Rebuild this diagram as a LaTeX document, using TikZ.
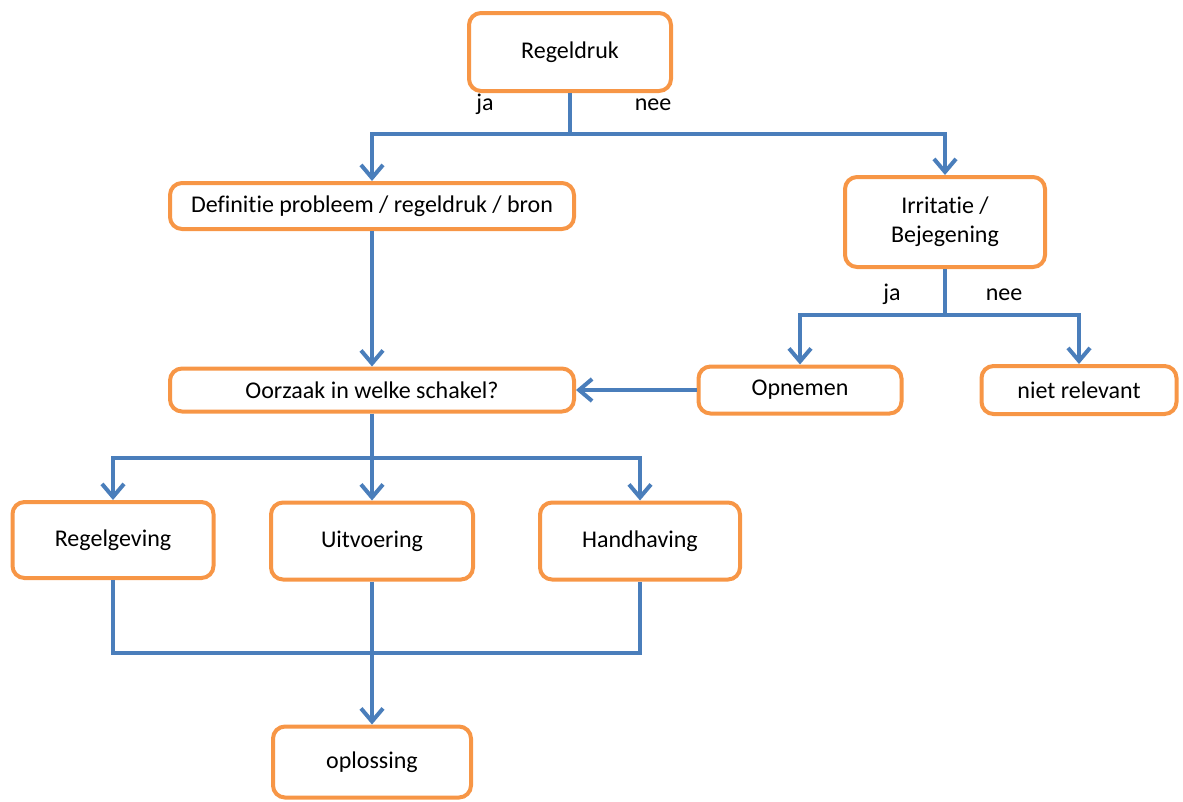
\documentclass[tikz,border=0pt]{standalone}
\usepackage{fontspec}
\setmainfont{Carlito}[Ligatures=NoCommon]
\usetikzlibrary{arrows.meta,positioning}

\definecolor{boxorange}{HTML}{F79646}
\definecolor{lineblue}{HTML}{4A7EBB}

\begin{document}
\begin{tikzpicture}[on grid,
  box/.style={draw=boxorange,line width=4pt,rounded corners=12pt,fill=white,
    align=center,font=\fontsize{24}{29}\selectfont},
  arr/.style={draw=lineblue,line width=4pt,-{Straight Barb[length=13pt,width=22pt]}},
  ln/.style={draw=lineblue,line width=4pt},
  lbl/.style={font=\fontsize{24}{29}\selectfont,text height=1.5ex,text depth=.4ex}]
\useasboundingbox (0,0) rectangle (1183pt,-801pt);
\node[box,minimum width=202pt,minimum height=78pt] (reg) at (570pt,-52pt) {Regeldruk};
\node[box,minimum width=404pt,minimum height=46pt] (def) [below left = 154pt and 198pt of reg] {Definitie probleem / regeldruk / bron};
\node[box,minimum width=200pt,minimum height=90pt] (irr) [below right = 170pt and 375pt of reg] {Irritatie /\\Bejegening};
\node[box,minimum width=404pt,minimum height=43pt] (oor) [below = 184pt of def] {Oorzaak in welke schakel?};
\node[box,minimum width=203pt,minimum height=47pt] (opn) [right = 428pt of oor] {Opnemen};
\node[box,minimum width=195pt,minimum height=48pt] (niet) [right = 279pt of opn] {niet relevant};
\node[box,minimum width=201pt,minimum height=76pt] (rgv) [below left = 150pt and 259pt of oor] {Regelgeving};
\node[box,minimum width=202pt,minimum height=77pt] (uit) [below = 151pt of oor] {Uitvoering};
\node[box,minimum width=200pt,minimum height=77pt] (hh) [below right = 151pt and 268pt of oor] {Handhaving};
\node[box,minimum width=198pt,minimum height=71pt] (opl) [below = 221pt of uit] {oplossing};
% split points
\coordinate[below = 41pt of reg.south] (s1);
\coordinate[below = 46pt of irr.south] (s2);
\coordinate[below = 44pt of oor.south] (s3);
\coordinate[below = 71pt of uit.south] (s4);
\node[lbl] (ja1) at ([shift={(-85pt,26pt)}]s1) {ja};
\node[lbl] (nee1) at ([shift={(83pt,26pt)}]s1) {nee};
\node[lbl] (ja2) at ([shift={(-53pt,17pt)}]s2) {ja};
\node[lbl] (nee2) at ([shift={(59pt,17pt)}]s2) {nee};
\draw[ln] (reg) -- (s1);
\draw[arr] (s1) -| (def);
\draw[arr] (s1) -| (irr);
\draw[arr] (def) -- (oor);
\draw[ln] (irr) -- (s2);
\draw[arr] (s2) -| (opn);
\draw[arr] (s2) -| (niet);
\draw[arr] (opn) -- (oor);
\draw[ln] (oor) -- (s3);
\draw[arr] (s3) -| (rgv);
\draw[arr] (s3) -- (uit);
\draw[arr] (s3) -| (hh);
\draw[ln] (rgv) |- (s4) -| (hh);
\draw[arr] (uit) -- (opl);
\end{tikzpicture}
\end{document}
